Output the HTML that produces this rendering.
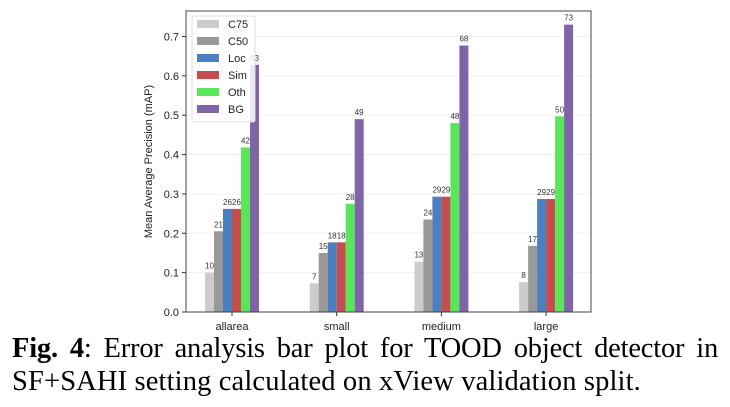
<!DOCTYPE html>
<html><head><meta charset="utf-8"><style>
body{margin:0;width:730px;height:407px;background:#fff;overflow:hidden;position:relative}
svg{position:absolute;left:0;top:0}
.cap{position:absolute;left:12px;width:706px;font-family:"Liberation Serif",serif;font-size:28.5px;line-height:1;color:#000;white-space:nowrap;letter-spacing:-0.2px}
</style></head><body>
<svg width="730" height="334" id="chart" font-family="Liberation Sans, sans-serif"></svg>
<div class="cap" style="top:335px;text-align:justify;text-align-last:justify"><b>Fig. 4</b>: Error analysis bar plot for TOOD object detector in</div>
<div class="cap" style="top:368px;letter-spacing:0.14px">SF+SAHI setting calculated on xView validation split.</div>
<script>
const categories=["allarea","small","medium","large"];
const seriesNames=["C75","C50","Loc","Sim","Oth","BG"];
const C75=[0.100,0.073,0.128,0.076];
const C50=[0.205,0.150,0.235,0.168];
const Loc=[0.262,0.177,0.293,0.287];
const Sim=[0.262,0.177,0.293,0.287];
const Oth=[0.418,0.275,0.480,0.497];
const BG=[0.628,0.490,0.677,0.730];
const yTicks=[0,0.1,0.2,0.3,0.4,0.5,0.6,0.7];
const series=[C75,C50,Loc,Sim,Oth,BG];
const colors=["#cccccc","#999999","#4c7fbf","#c44e4e","#5ae65a","#8064a8"];
const svg=document.getElementById('chart');
const NS="http://www.w3.org/2000/svg";
const L=186,R=591,T=11,B=312;
const y=v=>B-v*393.6;
const x=i=>232+i*104.7;
const bw=9;
function el(t,a,txt){const e=document.createElementNS(NS,t);for(const k in a)e.setAttribute(k,a[k]);if(txt!==undefined)e.textContent=txt;svg.appendChild(e);return e;}
yTicks.forEach(v=>{
 const g=el('line',{x1:L,x2:R,y1:y(v),y2:y(v),stroke:'#f0f0f0','stroke-width':1});
 
 const t=el('line',{x1:L-4,x2:L,y1:y(v),y2:y(v),stroke:'#333'});
 
 const l=el('text',{x:L-7,y:y(v)+4,'text-anchor':'end','font-size':11,fill:'#222'},v.toFixed(1));
 
});
categories.forEach((c,i)=>{
 const t=el('line',{x1:x(i),x2:x(i),y1:B,y2:B+4,stroke:'#333'});
 
 const l=el('text',{x:x(i),y:B+18,'text-anchor':'middle','font-size':11,fill:'#222'},c);
 
 series.forEach((s,j)=>{
  const bx=x(i)-27+j*bw;
  const r=el('rect',{x:bx,y:y(s[i]),width:bw,height:B-y(s[i]),fill:colors[j]});
  
  
  const vt=el('text',{x:bx+bw/2,y:y(s[i])-4,'text-anchor':'middle','font-size':8,fill:'#333'},Math.round(s[i]*100));
  
  
 });
});
const fr=el('rect',{x:L,y:T,width:R-L,height:B-T,fill:'none',stroke:'#444','stroke-width':1});

const yl=el('text',{x:0,y:0,transform:'translate(152,'+((T+B)/2)+') rotate(-90)','text-anchor':'middle','font-size':11,fill:'#222'},'Mean Average Precision (mAP)');

const lb=el('rect',{x:192,y:16,width:63,height:106,fill:'#fff','fill-opacity':0.85,stroke:'#ddd',rx:2});

seriesNames.forEach((n,j)=>{
 const p=el('rect',{x:197,y:20+j*17,width:22,height:8,fill:colors[j]});
 
 const t=el('text',{x:228,y:28+j*17,'font-size':11,fill:'#222'},n);
 
});
</script>
</body></html>
